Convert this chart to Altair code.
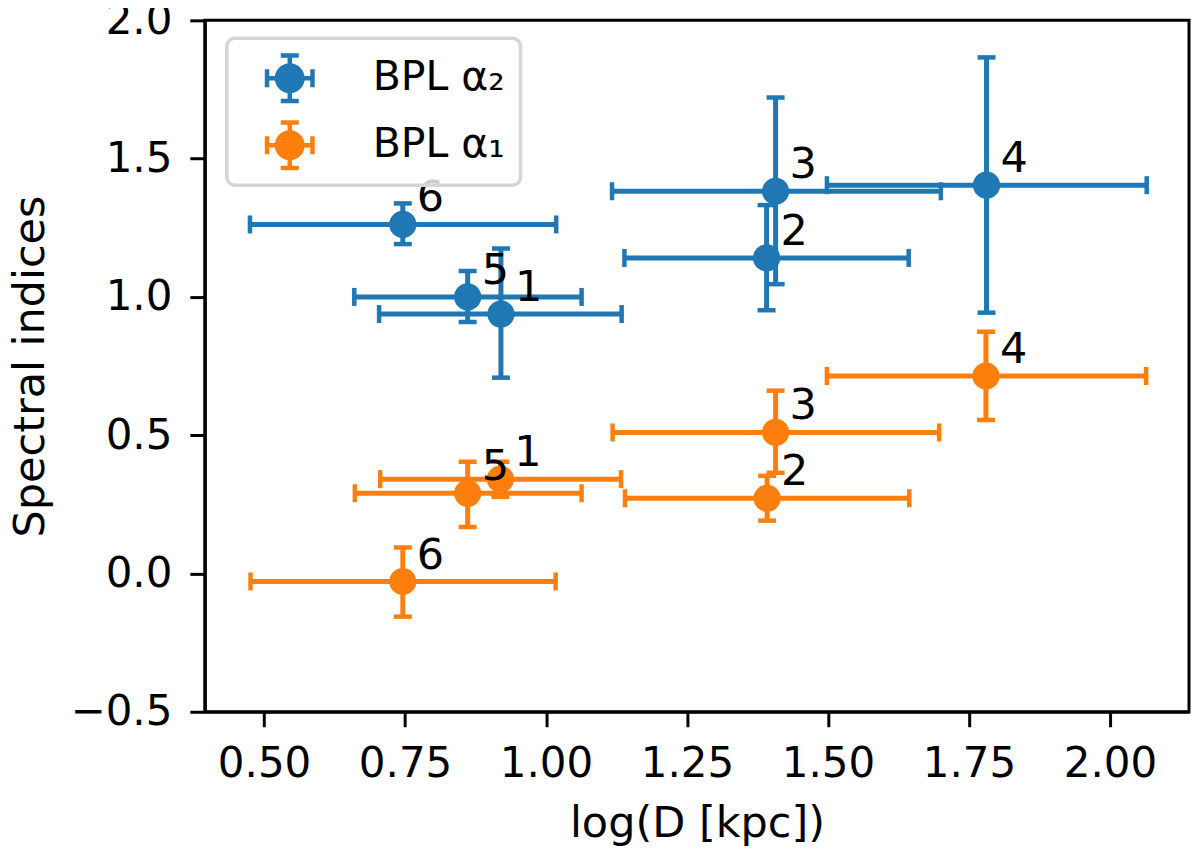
import altair as alt
import pandas as pd

labels = ["1", "2", "3", "4", "5", "6"]

# BPL alpha_2 (blue)
a2_x = [0.920, 1.391, 1.407, 1.781, 0.861, 0.746]
a2_xlo = [0.704, 1.139, 1.117, 1.498, 0.660, 0.475]
a2_xhi = [1.134, 1.643, 1.700, 2.065, 1.063, 1.018]
a2_y = [0.938, 1.141, 1.382, 1.404, 1.000, 1.262]
a2_ylo = [0.708, 0.952, 1.046, 0.943, 0.909, 1.191]
a2_yhi = [1.175, 1.332, 1.721, 1.866, 1.094, 1.338]

# BPL alpha_1 (orange)
a1_x = [0.919, 1.392, 1.407, 1.780, 0.861, 0.746]
a1_xlo = [0.706, 1.140, 1.118, 1.498, 0.661, 0.476]
a1_xhi = [1.133, 1.644, 1.697, 2.064, 1.063, 1.017]
a1_y = [0.341, 0.272, 0.510, 0.714, 0.290, -0.029]
a1_ylo = [0.277, 0.191, 0.364, 0.555, 0.168, -0.156]
a1_yhi = [0.404, 0.353, 0.661, 0.874, 0.404, 0.094]

series = ["BPL α₂", "BPL α₁"]
colors = ["#1f77b4", "#ff7f0e"]

x_ticks = [0.5, 0.75, 1.0, 1.25, 1.5, 1.75, 2.0]
y_ticks = [-0.5, 0.0, 0.5, 1.0, 1.5, 2.0]

FONT = "DejaVu Sans"

# legend handle: marker with error bar cross (unit = symbol radius)
handle = (
    "M-0.6,0A0.6,0.6 0 1,1 0.6,0A0.6,0.6 0 1,1 -0.6,0Z"
    "M-1,-0.09H1V0.09H-1Z"
    "M-0.09,-1H0.09V1H-0.09Z"
    "M-1,-0.36H-0.82V0.36H-1Z"
    "M0.82,-0.36H1V0.36H0.82Z"
    "M-0.36,-1H0.36V-0.82H-0.36Z"
    "M-0.36,0.82H0.36V1H-0.36Z"
)


def make_df(name, x, xlo, xhi, y, ylo, yhi):
    return pd.DataFrame(
        {
            "series": name,
            "label": labels,
            "x": x,
            "xlo": xlo,
            "xhi": xhi,
            "y": y,
            "ylo": ylo,
            "yhi": yhi,
        }
    )


df2 = make_df(series[0], a2_x, a2_xlo, a2_xhi, a2_y, a2_ylo, a2_yhi)
df1 = make_df(series[1], a1_x, a1_xlo, a1_xhi, a1_y, a1_ylo, a1_yhi)

xs = alt.Scale(domain=[0.395, 2.14], nice=False, zero=False)
ys = alt.Scale(domain=[-0.5, 2.0], nice=False, zero=False)
cs = alt.Scale(domain=series, range=colors)

legend = alt.Legend(
    title=None,
    orient="none",
    legendX=22,
    legendY=18,
    padding=15,
    rowPadding=17,
    symbolType=handle,
    symbolSize=2500,
    symbolStrokeWidth=0,
    symbolOffset=23,
    symbolOpacity=1,
    labelOffset=58,
    labelFont=FONT,
    labelFontSize=41,
    labelColor="black",
    labelLimit=400,
    fillColor="rgba(255,255,255,0.8)",
    strokeColor="#d5d5d5",
    cornerRadius=8,
)
col = alt.Color("series:N", scale=cs, legend=legend)


def errorbar(df):
    base = alt.Chart(df)
    xbar = base.mark_rule(strokeWidth=5).encode(
        x=alt.X("xlo:Q", scale=xs), x2="xhi:Q", y=alt.Y("y:Q", scale=ys), color=col
    )
    ybar = base.mark_rule(strokeWidth=5).encode(
        x=alt.X("x:Q", scale=xs), y=alt.Y("ylo:Q", scale=ys), y2="yhi:Q", color=col
    )
    caps = []
    for f in ["xlo", "xhi"]:
        caps.append(
            base.mark_tick(orient="vertical", size=18, thickness=4.5, opacity=1).encode(
                x=alt.X(f + ":Q", scale=xs), y=alt.Y("y:Q", scale=ys), color=col
            )
        )
    for f in ["ylo", "yhi"]:
        caps.append(
            base.mark_tick(orient="horizontal", size=18, thickness=4.5, opacity=1).encode(
                x=alt.X("x:Q", scale=xs), y=alt.Y(f + ":Q", scale=ys), color=col
            )
        )
    pts = base.mark_circle(size=740, opacity=1).encode(
        x=alt.X("x:Q", scale=xs), y=alt.Y("y:Q", scale=ys), color=col
    )
    return alt.layer(xbar, ybar, *caps, pts)


def point_labels(df):
    return (
        alt.Chart(df)
        .mark_text(
            align="left",
            baseline="alphabetic",
            dx=14,
            dy=-13,
            font=FONT,
            fontSize=43,
            color="black",
        )
        .encode(
            x=alt.X("x:Q", scale=xs),
            y=alt.Y("y:Q", scale=ys),
            text="label:N",
        )
    )


x_axis = alt.Axis(
    values=x_ticks,
    format=".2f",
    title="log(D [kpc])",
    grid=False,
    labelBaseline="alphabetic",
    labelPadding=50,
    titleBaseline="alphabetic",
    titleY=125,
)
y_axis = alt.Axis(
    values=y_ticks,
    format=".1f",
    title="Spectral indices",
    grid=False,
    labelPadding=18,
    titleBaseline="alphabetic",
    titleX=-161,
)

frame = (
    alt.Chart(df2)
    .mark_point(opacity=0)
    .encode(
        x=alt.X("x:Q", scale=xs, axis=x_axis),
        y=alt.Y("y:Q", scale=ys, axis=y_axis),
    )
)

chart = (
    alt.layer(
        frame,
        errorbar(df2),
        errorbar(df1),
        point_labels(df2),
        point_labels(df1),
    )
    .properties(
        width=985,
        height=692,
        autosize=alt.AutoSizeParams(type="none"),
        padding={"left": 197, "top": 12, "right": 3, "bottom": 136},
    )
    .configure_view(stroke="black", strokeWidth=3)
    .configure_legend(strokeWidth=3.5)
    .configure_axis(
        domainColor="black",
        domainWidth=3,
        tickColor="black",
        tickWidth=3,
        tickSize=15,
        labelFont=FONT,
        labelFontSize=42,
        labelColor="black",
        titleFont=FONT,
        titleFontSize=43,
        titleFontWeight="normal",
        titleColor="black",
        labelFlush=False,
        labelOverlap=False,
    )
)

chart.save("out.html", embed_options={"renderer": "svg", "actions": False})
